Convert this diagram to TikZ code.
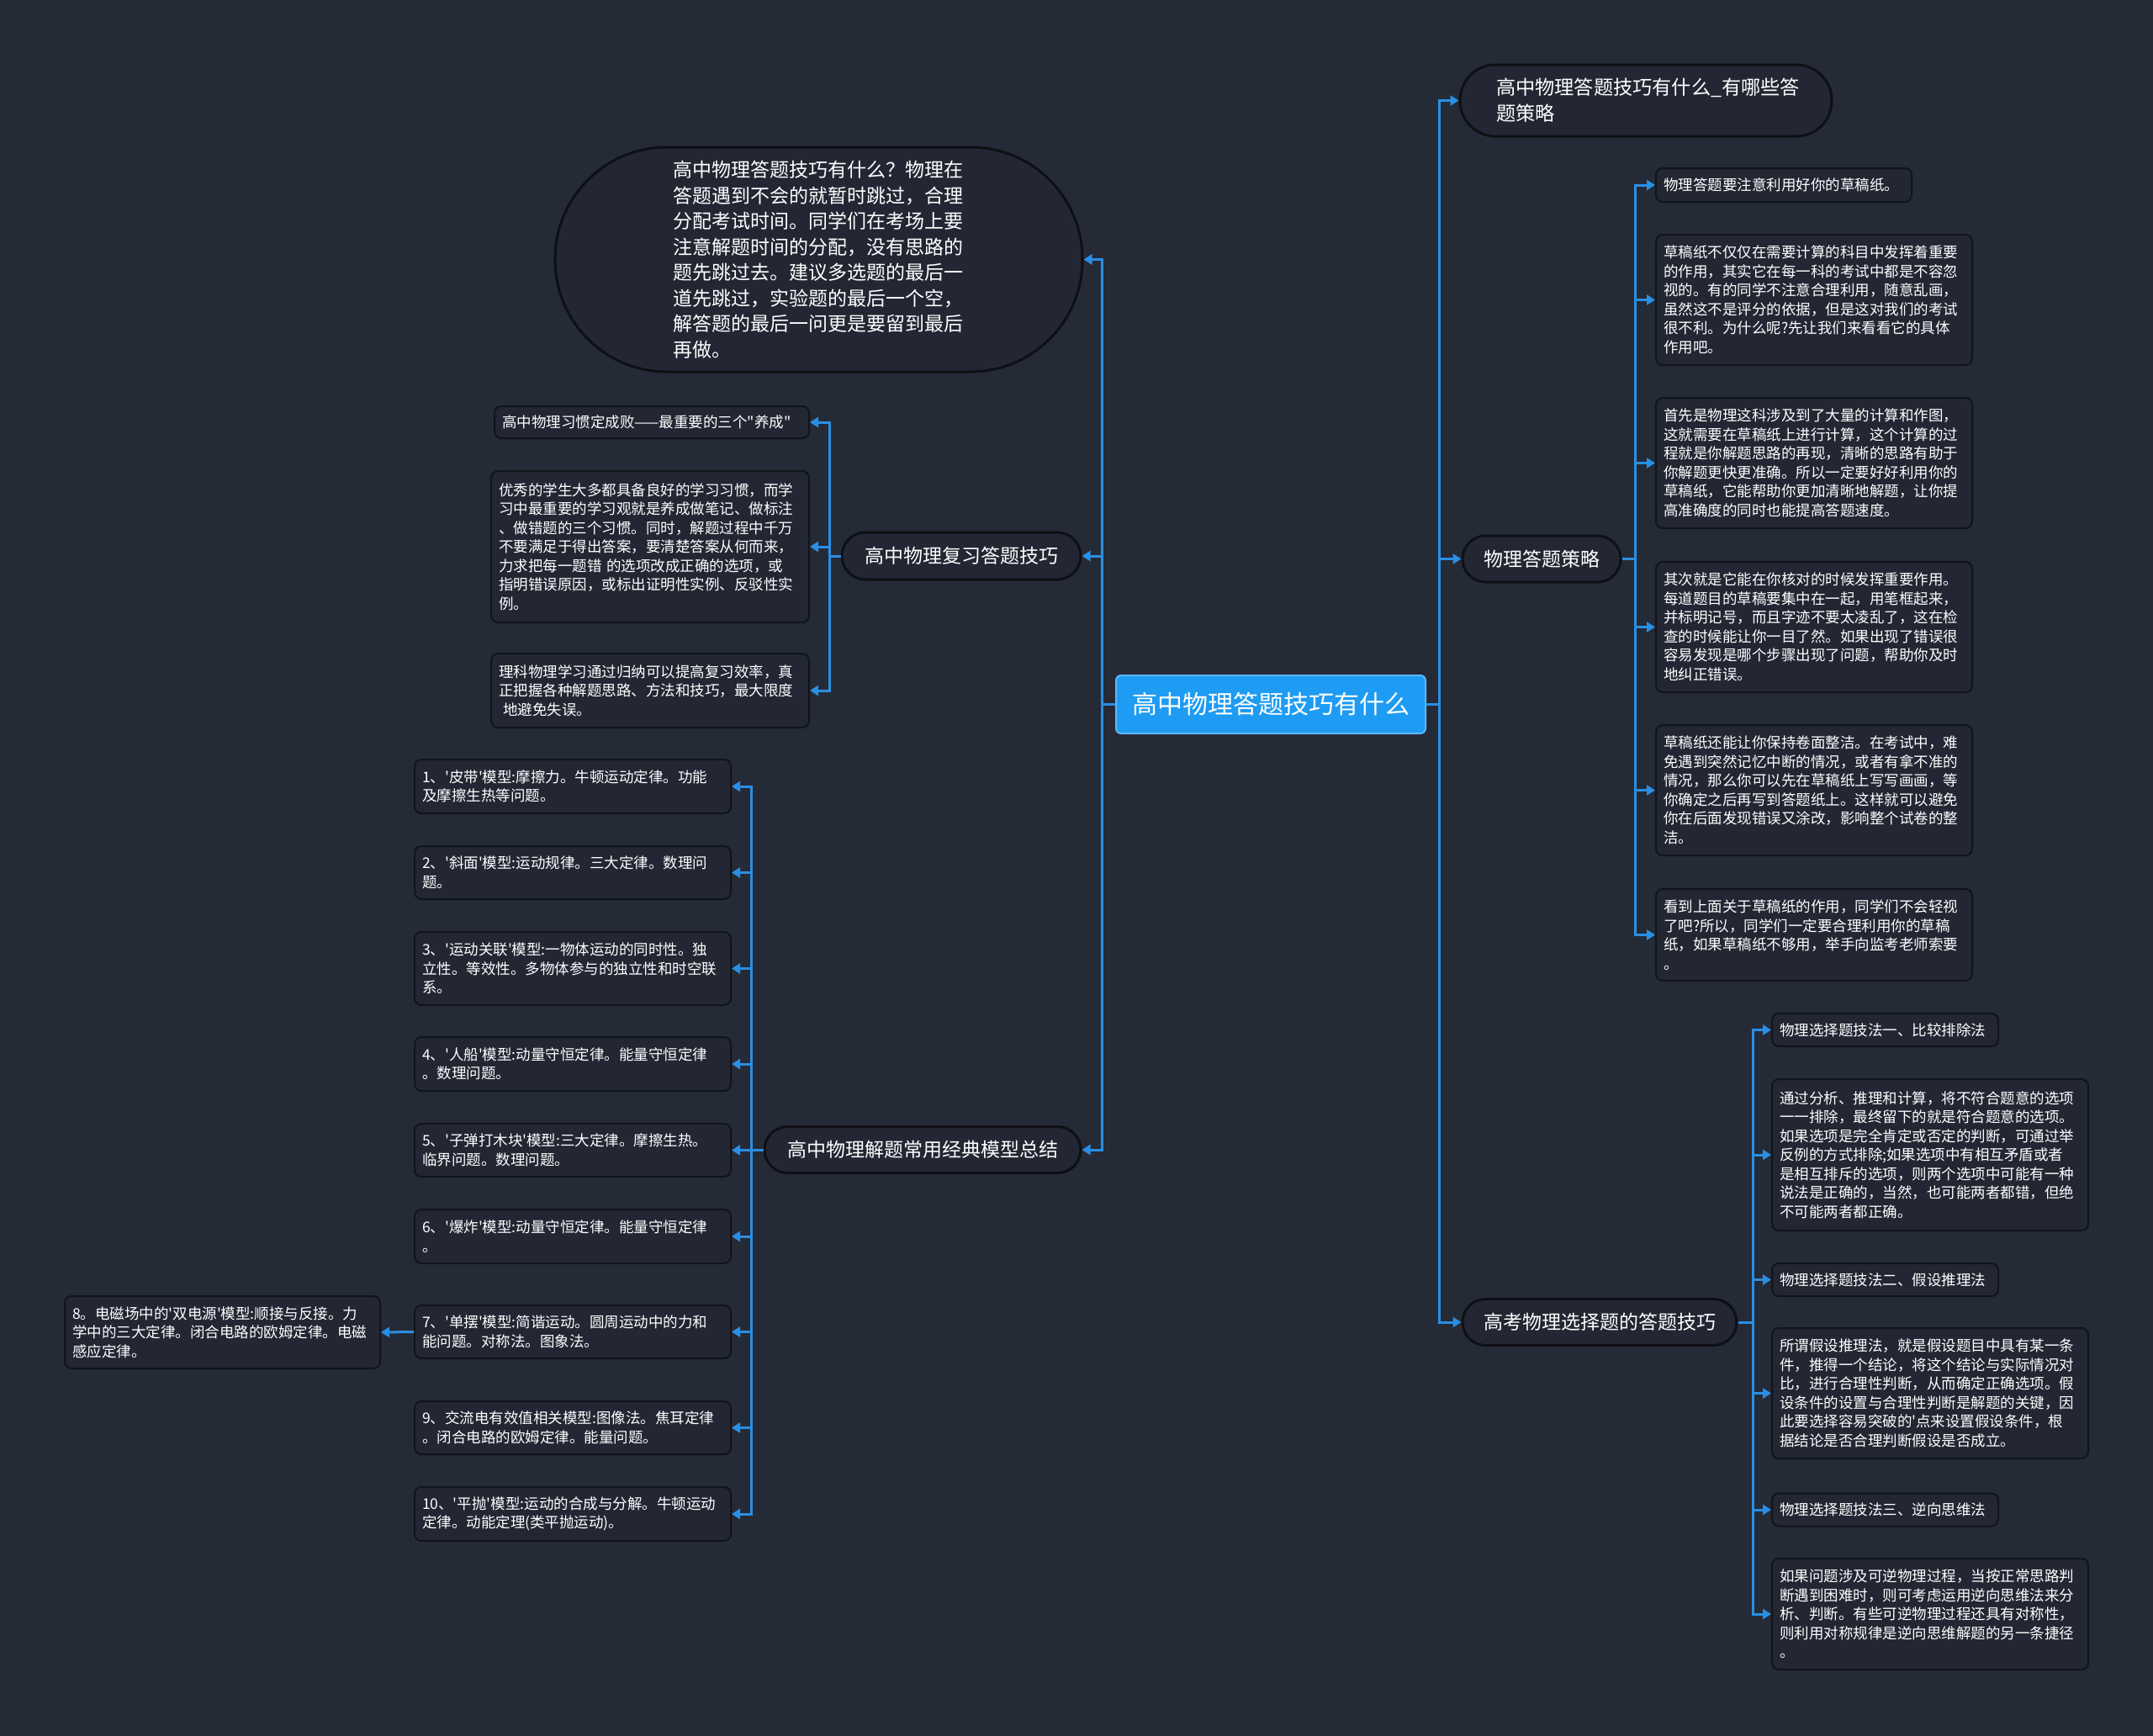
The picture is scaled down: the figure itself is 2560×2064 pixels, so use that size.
\documentclass[tikz,border=0pt]{standalone}
\usepackage{fontspec}
\newfontfamily\cjk{Noto Sans CJK SC}
\usetikzlibrary{arrows.meta}
\definecolor{bg}{HTML}{252A37}
\definecolor{nodefill}{HTML}{232734}
\definecolor{nodeline}{HTML}{111419}
\definecolor{pillline}{HTML}{0E1014}
\definecolor{conncol}{HTML}{2A8FE3}
\definecolor{rootfill}{HTML}{1E9BF2}
\definecolor{rootline}{HTML}{5DB6F5}
\tikzset{
 leaf/.style={rectangle, rounded corners=8pt, draw=nodeline, line width=2pt, fill=nodefill, text=white,
   font=\cjk\fontsize{17.5}{22.5}\selectfont, align=left, inner xsep=9pt, inner ysep=0pt},
 pill/.style={rectangle, draw=pillline, line width=3pt, fill=nodefill, text=white,
   font=\cjk\fontsize{23}{30.5}\selectfont, inner sep=0pt, align=center},
 conn/.style={draw=conncol, line width=3pt, -{Triangle[length=10pt,width=12pt]}},
}
\begin{document}
\begin{tikzpicture}[x=1pt,y=-1pt]
\useasboundingbox (0,0) rectangle (2560,2064);
\fill[bg] (0,0) rectangle (2560,2064);

% root
\node[rectangle, rounded corners=6pt, fill=rootfill, draw=rootline, line width=2pt, minimum width=368pt, minimum height=69pt,
  inner sep=0pt, font=\cjk\fontsize{30}{36}\selectfont, text=white] (root) at (1511,837.5) {高中物理答题技巧有什么};

% right branches
\node[pill, minimum width=442pt, minimum height=85pt, rounded corners=42pt, text width=356pt, align=left,
  font=\cjk\fontsize{23.2}{31}\selectfont] (B1) at (1957,119.5) {高中物理答题技巧有什么\_有哪些答\\题策略};
\node[pill, minimum width=188pt, minimum height=55pt, rounded corners=27.5pt] (B2) at (1833,664.5) {物理答题策略};
\node[pill, minimum width=326pt, minimum height=55pt, rounded corners=27.5pt] (B3) at (1902,1572) {高考物理选择题的答题技巧};

% left branches
\node[pill, minimum width=627pt, minimum height=267pt, rounded corners=133pt, text width=346pt, align=left] (B4) at (973.5,308.5)
 {高中物理答题技巧有什么？物理在\\答题遇到不会的就暂时跳过，合理\\分配考试时间。同学们在考场上要\\注意解题时间的分配，没有思路的\\题先跳过去。建议多选题的最后一\\道先跳过，实验题的最后一个空，\\解答题的最后一问更是要留到最后\\再做。};
\node[pill, minimum width=284pt, minimum height=56pt, rounded corners=28pt] (B5) at (1143,661) {高中物理复习答题技巧};
\node[pill, minimum width=376pt, minimum height=55pt, rounded corners=27.5pt] (B6) at (1097,1367) {高中物理解题常用经典模型总结};

% strategy leaves
\node[leaf, text width=286pt, minimum height=40pt] (L1) at (2121,220) {物理答题要注意利用好你的草稿纸。};
\node[leaf, text width=358pt, minimum height=155pt] (L2) at (2157,356.5)
 {草稿纸不仅仅在需要计算的科目中发挥着重要\\的作用，其实它在每一科的考试中都是不容忽\\视的。有的同学不注意合理利用，随意乱画，\\虽然这不是评分的依据，但是这对我们的考试\\很不利。为什么呢?先让我们来看看它的具体\\作用吧。};
\node[leaf, text width=358pt, minimum height=155pt] (L3) at (2157,550.5)
 {首先是物理这科涉及到了大量的计算和作图，\\这就需要在草稿纸上进行计算，这个计算的过\\程就是你解题思路的再现，清晰的思路有助于\\你解题更快更准确。所以一定要好好利用你的\\草稿纸，它能帮助你更加清晰地解题，让你提\\高准确度的同时也能提高答题速度。};
\node[leaf, text width=358pt, minimum height=155pt] (L4) at (2157,745.5)
 {其次就是它能在你核对的时候发挥重要作用。\\每道题目的草稿要集中在一起，用笔框起来，\\并标明记号，而且字迹不要太凌乱了，这在检\\查的时候能让你一目了然。如果出现了错误很\\容易发现是哪个步骤出现了问题，帮助你及时\\地纠正错误。};
\node[leaf, text width=358pt, minimum height=155pt] (L5) at (2157,939.5)
 {草稿纸还能让你保持卷面整洁。在考试中，难\\免遇到突然记忆中断的情况，或者有拿不准的\\情况，那么你可以先在草稿纸上写写画画，等\\你确定之后再写到答题纸上。这样就可以避免\\你在后面发现错误又涂改，影响整个试卷的整\\洁。};
\node[leaf, text width=358pt, minimum height=109pt] (L6) at (2157,1111.5)
 {看到上面关于草稿纸的作用，同学们不会轻视\\了吧?所以，同学们一定要合理利用你的草稿\\纸，如果草稿纸不够用，举手向监考老师索要\\。};

% choice leaves
\node[leaf, text width=251pt, minimum height=39pt] (S1) at (2241.5,1224.5) {物理选择题技法一、比较排除法};
\node[leaf, text width=358pt, minimum height=180pt] (S2) at (2295,1373)
 {通过分析、推理和计算，将不符合题意的选项\\一一排除，最终留下的就是符合题意的选项。\\如果选项是完全肯定或否定的判断，可通过举\\反例的方式排除;如果选项中有相互矛盾或者\\是相互排斥的选项，则两个选项中可能有一种\\说法是正确的，当然，也可能两者都错，但绝\\不可能两者都正确。};
\node[leaf, text width=251pt, minimum height=39pt] (S3) at (2241.5,1521.5) {物理选择题技法二、假设推理法};
\node[leaf, text width=358pt, minimum height=155pt] (S4) at (2295,1656.5)
 {所谓假设推理法，就是假设题目中具有某一条\\件，推得一个结论，将这个结论与实际情况对\\比，进行合理性判断，从而确定正确选项。假\\设条件的设置与合理性判断是解题的关键，因\\此要选择容易突破的'点来设置假设条件，根\\据结论是否合理判断假设是否成立。};
\node[leaf, text width=251pt, minimum height=39pt] (S5) at (2241.5,1795) {物理选择题技法三、逆向思维法};
\node[leaf, text width=358pt, minimum height=132pt] (S6) at (2295,1919)
 {如果问题涉及可逆物理过程，当按正常思路判\\断遇到困难时，则可考虑运用逆向思维法来分\\析、判断。有些可逆物理过程还具有对称性，\\则利用对称规律是逆向思维解题的另一条捷径\\。};

% review leaves
\node[leaf, text width=356pt, minimum height=38pt] (R1) at (775,502) {高中物理习惯定成败——最重要的三个"养成"};
\node[leaf, text width=360pt, minimum height=180pt] (R2) at (773,650)
 {优秀的学生大多都具备良好的学习习惯，而学\\习中最重要的学习观就是养成做笔记、做标注\\、做错题的三个习惯。同时，解题过程中千万\\不要满足于得出答案，要清楚答案从何而来，\\力求把每一题错 的选项改成正确的选项，或\\指明错误原因，或标出证明性实例、反驳性实\\例。};
\node[leaf, text width=360pt, minimum height=88pt] (R3) at (773,821)
 {理科物理学习通过归纳可以提高复习效率，真\\正把握各种解题思路、方法和技巧，最大限度\\\hspace*{0.3em}地避免失误。};

% model leaves
\node[leaf, text width=358pt, minimum height=64pt] (M1) at (681,935) {1、'皮带'模型:摩擦力。牛顿运动定律。功能\\及摩擦生热等问题。};
\node[leaf, text width=358pt, minimum height=63pt] (M2) at (681,1037.5) {2、'斜面'模型:运动规律。三大定律。数理问\\题。};
\node[leaf, text width=358pt, minimum height=87pt] (M3) at (681,1151.5) {3、'运动关联'模型:一物体运动的同时性。独\\立性。等效性。多物体参与的独立性和时空联\\系。};
\node[leaf, text width=358pt, minimum height=64pt] (M4) at (681,1265) {4、'人船'模型:动量守恒定律。能量守恒定律\\。数理问题。};
\node[leaf, text width=358pt, minimum height=63pt] (M5) at (681,1367.5) {5、'子弹打木块'模型:三大定律。摩擦生热。\\临界问题。数理问题。};
\node[leaf, text width=358pt, minimum height=64pt] (M6) at (681,1470) {6、'爆炸'模型:动量守恒定律。能量守恒定律\\。};
\node[leaf, text width=358pt, minimum height=63pt] (M7) at (681,1583.5) {7、'单摆'模型:简谐运动。圆周运动中的力和\\能问题。对称法。图象法。};
\node[leaf, text width=357pt, minimum height=86pt] (M8) at (264.5,1584) {8。电磁场中的'双电源'模型:顺接与反接。力\\学中的三大定律。闭合电路的欧姆定律。电磁\\感应定律。};
\node[leaf, text width=358pt, minimum height=63pt] (M9) at (681,1697.5) {9、交流电有效值相关模型:图像法。焦耳定律\\。闭合电路的欧姆定律。能量问题。};
\node[leaf, text width=358pt, minimum height=64pt] (M10) at (681,1800) {10、'平抛'模型:运动的合成与分解。牛顿运动\\定律。动能定理(类平抛运动)。};

% connectors: root
\foreach \n in {B1,B2,B3} \draw[conn] (root.east) -- ++(15,0) |- (\n.west);
\foreach \n in {B4,B5,B6} \draw[conn] (root.west) -- ++(-16,0) |- (\n.east);
% strategy
\foreach \n in {L1,L2,L3,L4,L5,L6} \draw[conn] (B2.east) -- ++(16,0) |- (\n.west);
% choice
\foreach \n in {S1,S2,S3,S4,S5,S6} \draw[conn] (B3.east) -- ++(18,0) |- (\n.west);
% review
\foreach \n in {R1,R2,R3} \draw[conn] (B5.west) -- ++(-13,0) |- (\n.east);
% models
\foreach \n in {M1,M2,M3,M4,M5,M6,M7,M9,M10} \draw[conn] (B6.west) -- ++(-14,0) |- (\n.east);
\draw[conn] (M7.west) -- (M8.east);
\end{tikzpicture}
\end{document}
